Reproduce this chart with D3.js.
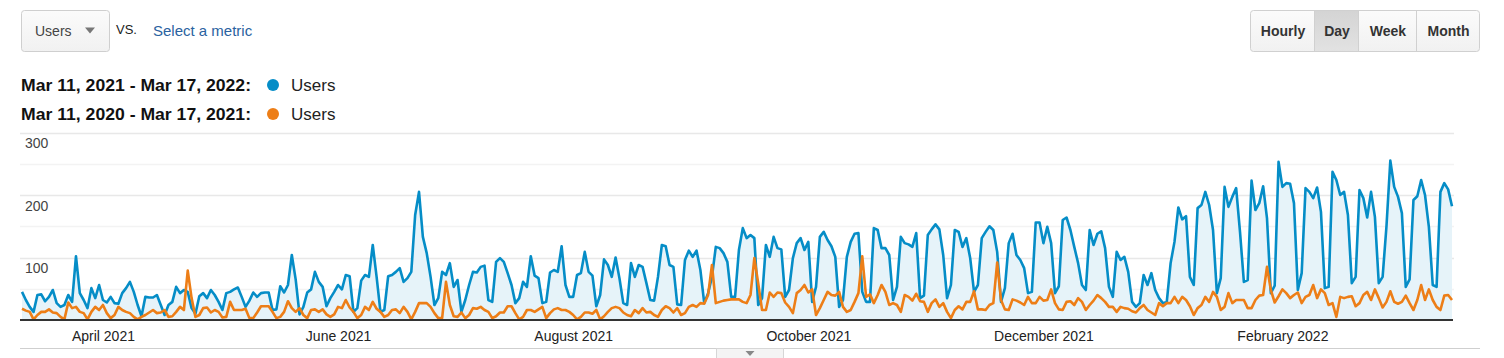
<!DOCTYPE html>
<html><head><meta charset="utf-8">
<script src="https://cdn.jsdelivr.net/npm/d3@7/dist/d3.min.js"></script>
<style>
html,body{margin:0;padding:0;background:#fff;}
svg{display:block;font-family:"Liberation Sans",Arial,sans-serif;}
</style></head><body>
<svg id="chart" width="1504" height="358"></svg>
<script>
// ---------- data ----------
const startDate = "2021-03-11";
const currentRangeLabel = "Mar 11, 2021 - Mar 17, 2022:";
const previousRangeLabel = "Mar 11, 2020 - Mar 17, 2021:";
const metricName = "Users";

const currentUsers = [
45,32,21,13,40,41,30,37,48,27,21,24,40,29,102,43,32,19,51,35,56,32,28,37,27,26,43,51,61,45,24,6,37,36,36,40,24,8,24,29,53,43,48,45,19,10,38,
43,35,48,40,29,16,43,45,49,52,37,21,31,44,37,43,44,44,16,17,54,44,56,104,65,9,21,44,49,77,61,53,22,35,45,56,49,72,70,13,19,63,72,69,120,69,13,
16,70,72,77,83,61,67,77,168,205,133,107,69,24,35,77,72,91,53,64,13,32,56,77,76,85,87,32,29,93,99,93,75,56,27,35,61,53,102,71,67,27,29,76,80,77,118,
56,37,37,72,75,109,77,71,22,40,97,88,69,100,67,27,24,91,69,88,85,59,32,31,69,120,118,88,85,25,24,96,111,101,111,80,27,43,69,117,115,107,93,37,37,112,
147,131,136,131,24,35,120,101,133,115,113,37,48,99,123,131,112,125,29,53,133,141,128,118,101,21,32,101,125,138,139,45,29,29,147,144,115,115,104,32,53,133,123,121,117,139,35,
39,136,145,153,145,104,35,56,144,141,117,131,99,45,56,131,141,150,144,109,29,51,123,138,104,96,83,43,45,156,156,123,149,123,43,54,160,164,144,117,91,56,48,144,120,138,
142,115,53,37,109,96,101,77,29,21,27,72,56,75,48,35,27,29,91,125,180,161,166,69,56,179,184,205,184,144,43,67,213,181,197,211,141,61,64,223,176,187,214,163,43,55,253,
213,219,218,187,48,75,211,205,195,212,173,51,53,237,224,200,205,168,59,69,208,195,164,205,165,59,69,150,255,213,197,171,53,65,192,198,224,200,149,56,53,205,219,209,182
];

const previousUsers = [
18,15,13,1,8,13,13,17,12,11,5,1,28,19,21,13,11,1,13,21,16,24,11,3,8,21,16,13,11,5,1,5,8,12,16,11,12,16,5,6,13,21,16,79,35,5,8,
19,20,12,16,13,4,5,29,16,16,16,18,3,3,12,22,22,22,13,3,5,13,30,19,13,19,8,3,16,17,13,17,9,5,9,21,19,32,20,13,3,8,21,16,29,18,13,
5,8,16,17,11,21,13,1,13,27,27,27,21,11,3,3,61,24,6,5,12,3,8,19,18,21,16,13,3,6,12,12,22,22,11,1,5,16,16,13,17,21,3,11,17,19,16,
16,13,8,1,5,12,12,10,16,1,6,13,19,21,19,12,8,6,16,11,19,12,13,8,5,16,22,19,12,19,8,11,21,24,21,27,26,40,88,27,29,31,32,33,33,33,
29,27,40,99,59,16,16,44,37,44,43,28,21,11,43,48,56,44,49,8,19,32,45,40,39,45,21,13,16,29,43,102,37,41,27,40,56,45,24,27,24,13,40,37,31,42,30,
29,13,27,33,21,27,13,3,16,22,17,29,29,46,17,17,16,24,27,92,32,17,16,33,31,28,24,37,27,27,37,31,32,49,27,17,16,29,30,24,35,29,16,24,31,40,
35,29,21,21,13,21,19,18,14,12,19,24,16,12,8,27,22,27,27,37,27,37,32,22,8,19,24,37,29,45,37,16,21,43,27,32,32,32,19,19,32,39,40,85,48,28,38,
49,43,35,40,44,27,37,40,56,35,49,43,24,27,5,37,35,37,38,22,27,40,45,32,49,35,20,29,46,29,26,29,39,27,16,32,56,32,49,32,21,16,39,40,32
];

const yGridValues = [0,50,100,150,200,250,300];
const yLabelValues = [100,200,300];
const xTickDates = ["2021-04-01","2021-06-01","2021-08-01","2021-10-01","2021-12-01","2022-02-01"];
const xTickLabels = ["April 2021","June 2021","August 2021","October 2021","December 2021","February 2022"];
const granularityButtons = ["Hourly","Day","Week","Month"];

// ---------- setup ----------
const svg = d3.select("#chart");
const parse = d3.utcParse("%Y-%m-%d");
const t0 = parse(startDate);
const dates = currentUsers.map((_, i) => d3.utcDay.offset(t0, i));

const x = d3.scaleUtc().domain([dates[0], dates[dates.length - 1]]).range([22, 1452]);
const y = d3.scaleLinear().domain([0, 300]).range([320, 132.5]);

// ---------- header ----------
const defs = svg.append("defs");
const g1 = defs.append("linearGradient").attr("id","btnGrad").attr("x1",0).attr("y1",0).attr("x2",0).attr("y2",1);
g1.append("stop").attr("offset","0%").attr("stop-color","#fbfbfb");
g1.append("stop").attr("offset","100%").attr("stop-color","#f1f1f1");
const g2 = defs.append("linearGradient").attr("id","btnOn").attr("x1",0).attr("y1",0).attr("x2",0).attr("y2",1);
g2.append("stop").attr("offset","0%").attr("stop-color","#d4d4d4");
g2.append("stop").attr("offset","100%").attr("stop-color","#e2e2e2");

svg.append("rect").attr("x",21.5).attr("y",10.5).attr("width",88).attr("height",41).attr("rx",3)
  .attr("fill","url(#btnGrad)").attr("stroke","#cfcfcf");
svg.append("text").attr("x",35).attr("y",36).attr("font-size",14).attr("fill","#444").text(metricName);
svg.append("path").attr("d","M85,27.5 L95,27.5 L90,33.5 Z").attr("fill","#777");
svg.append("text").attr("x",116).attr("y",34).attr("font-size",13).attr("fill","#222").text("VS.");
svg.append("text").attr("x",153).attr("y",36).attr("font-size",15).attr("fill","#2a62a0").text("Select a metric");

// legend
const legend = [
  {label: currentRangeLabel, color: "#058dc7", y: 91},
  {label: previousRangeLabel, color: "#ed7e17", y: 120}
];
legend.forEach(l => {
  svg.append("text").attr("x",21).attr("y",l.y).attr("font-size",17).attr("font-weight","bold")
    .attr("fill","#111").attr("textLength",230).attr("lengthAdjust","spacingAndGlyphs").text(l.label);
  svg.append("circle").attr("cx",273).attr("cy",l.y-6).attr("r",6).attr("fill",l.color);
  svg.append("text").attr("x",291).attr("y",l.y).attr("font-size",17).attr("fill","#222").text(metricName);
});

// granularity buttons
const btnX = [1251, 1315, 1359, 1417, 1480];
svg.append("rect").attr("x",1250.5).attr("y",10.5).attr("width",229).attr("height",41).attr("rx",3)
  .attr("fill","url(#btnGrad)").attr("stroke","#d0d0d0");
svg.append("rect").attr("x",1314.5).attr("y",11).attr("width",44).attr("height",40).attr("fill","url(#btnOn)");
granularityButtons.forEach((b, i) => {
  if (i > 0) svg.append("line").attr("x1",btnX[i]-0.5).attr("x2",btnX[i]-0.5).attr("y1",11).attr("y2",51).attr("stroke","#d0d0d0");
  svg.append("text").attr("x",(btnX[i]+btnX[i+1])/2).attr("y",36).attr("text-anchor","middle")
    .attr("font-size",14).attr("font-weight","bold").attr("fill","#333").text(b);
});

// ---------- grid ----------
svg.append("g").selectAll("line").data(yGridValues.filter(v => v > 0)).join("line")
  .attr("x1",20).attr("x2",1454).attr("y1",d => Math.round(y(d))+0.5).attr("y2",d => Math.round(y(d))+0.5)
  .attr("stroke",d => yLabelValues.includes(d) ? "#e8e8e8" : "#f3f3f3").attr("stroke-width",1.5);

svg.append("g").selectAll("text").data(yLabelValues).join("text")
  .attr("x",25).attr("y",d => y(d)+15.5).attr("font-size",14).attr("fill","#444").text(d => d);

// ---------- series ----------
const cur = currentUsers.map((v,i) => ({d: dates[i], v}));
const prev = previousUsers.map((v,i) => ({d: dates[i], v}));

svg.append("path").datum(cur)
  .attr("d", d3.area().x(p => x(p.d)).y0(y(0)).y1(p => y(p.v)))
  .attr("fill","#e6f3f9");

svg.append("path").datum(cur)
  .attr("d", d3.line().x(p => x(p.d)).y(p => y(p.v)))
  .attr("fill","none").attr("stroke","#058dc7").attr("stroke-width",2.6).attr("stroke-linejoin","round");

svg.append("path").datum(prev)
  .attr("d", d3.line().x(p => x(p.d)).y(p => y(p.v)))
  .attr("fill","none").attr("stroke","#ed7e17").attr("stroke-width",2.6).attr("stroke-linejoin","round");

// baseline axis
svg.append("line").attr("x1",20).attr("x2",1453).attr("y1",320).attr("y2",320).attr("stroke","#333").attr("stroke-width",2);

// x labels
const xAxis = d3.axisBottom(x).tickValues(xTickDates.map(parse))
  .tickFormat((d,i) => xTickLabels[i]).tickSize(0).tickPadding(0);
const gx = svg.append("g").attr("transform","translate(0,328)").call(xAxis);
gx.select(".domain").remove();
gx.selectAll("text").attr("font-size",14).attr("fill","#222").attr("dy","0.9em")
  .attr("font-family","'Liberation Sans',Arial,sans-serif");

// bottom divider and handle
svg.append("line").attr("x1",20).attr("x2",1480).attr("y1",348.5).attr("y2",348.5).attr("stroke","#cfcfcf");
svg.append("rect").attr("x",716.5).attr("y",348.5).attr("width",67).attr("height",12).attr("fill","#f4f4f4").attr("stroke","#d6d6d6");
svg.append("path").attr("d","M745.5,351 L754.5,351 L750,356 Z").attr("fill","#888");
</script>
</body></html>
